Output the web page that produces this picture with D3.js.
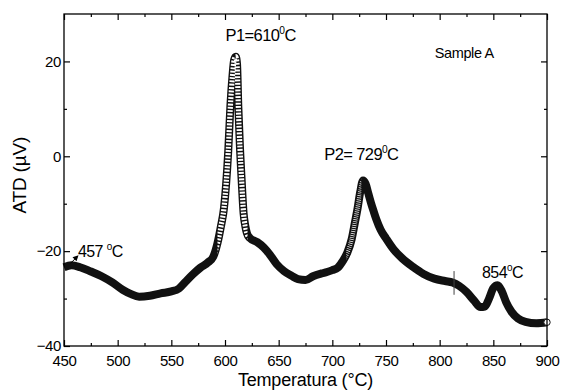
<!DOCTYPE html>
<html>
<head>
<meta charset="utf-8">
<script src="https://cdn.jsdelivr.net/npm/d3@7"></script>
<style>
	body { margin: 0; background: #fff; }
	text { font-family: Arial, "Liberation Sans", sans-serif; fill: #000; }
</style>
</head>
<body>
<svg id="chart" width="562" height="391"></svg>
<script>
// DTA curve, values (temperature in C, signal in uV)
const temps = [450, 457, 465, 475, 485, 495, 505, 512, 520, 530, 540, 550, 557, 563, 570, 577, 584, 589,
	593, 596, 599, 601, 603, 605, 607, 608.5, 610, 611.2, 612.4, 614, 615.5, 617.3, 619, 620.4, 623,
	630, 636, 642, 648, 655, 662, 668, 675, 682, 690, 695, 700, 705, 710, 714, 718, 721, 723.5, 726,
	728.6, 731, 733.5, 736, 738.5, 741, 745, 750, 757, 765, 775, 785, 795, 805, 812, 818, 825, 832,
	838, 842, 846, 850, 854, 858, 862, 867, 873, 880, 890, 900];
const atd = [-23.4, -23.0, -23.4, -24.3, -25.3, -26.6, -28.2, -29.0, -29.6, -29.4, -28.9, -28.5, -27.9, -26.5, -24.9, -23.5, -22.4, -21.2,
	-18.3, -15.0, -11.0, -6.0, 1.0, 10.5, 17.0, 20.3, 21.0, 19.5, 10.5, 1.5, -5.0, -12.0, -14.8, -16.2, -17.2,
	-18.1, -19.2, -20.8, -22.7, -24.2, -25.2, -25.9, -26.1, -25.3, -24.7, -24.4, -24.0, -23.5, -22.0, -20.3, -17.5, -14.0, -11.0, -7.5,
	-5.1, -5.8, -7.8, -9.8, -11.6, -13.3, -15.5, -17.3, -19.6, -21.5, -23.3, -24.8, -25.8, -26.3, -26.6, -27.3, -28.6, -30.4,
	-31.8, -31.7, -30.0, -27.8, -27.2, -28.5, -30.8, -32.8, -34.2, -34.9, -35.2, -35.0];

const xMajor = [450, 500, 550, 600, 650, 700, 750, 800, 850, 900];
const xMinor = [475, 525, 575, 625, 675, 725, 775, 825, 875];
const yMajor = [-40, -20, 0, 20];
const yMinor = [-30, -10, 10];

const data = temps.map((t, i) => ({ T: t, V: atd[i] }));

var margin = { top: 14, right: 15, bottom: 45, left: 64 },
	width = 562,
	height = 391;

var svg = d3.select("#chart");

let x = d3.scaleLinear().domain([450, 900]).range([margin.left, width - margin.right]);
let y = d3.scaleLinear().domain([-40, 30]).range([height - margin.bottom, margin.top]);

let line = d3
	.line()
	.x((d) => x(d.T))
	.y((d) => y(d.V))
	.curve(d3.curveMonotoneX);

// clip for the peak flanks where the open circles show as a chain
var defs = svg.append("defs");
defs.append("clipPath").attr("id", "p1")
	.append("rect")
	.attr("x", x(593)).attr("width", x(621) - x(593))
	.attr("y", 0).attr("height", height);
defs.append("clipPath").attr("id", "p2")
	.append("rect")
	.attr("x", x(713)).attr("width", x(727) - x(713))
	.attr("y", 0).attr("height", height);

// thick band made by the overlapping markers
svg.append("path")
	.attr("d", line(data))
	.attr("fill", "none")
	.attr("stroke", "#111")
	.attr("stroke-width", 8);

svg.append("path")
	.attr("d", line(data))
	.attr("clip-path", "url(#p1)")
	.attr("fill", "none")
	.attr("stroke", "#fff")
	.attr("stroke-width", 5.2)
	.attr("stroke-dasharray", "1.9 1.4");

svg.append("path")
	.attr("d", line(data))
	.attr("clip-path", "url(#p2)")
	.attr("fill", "none")
	.attr("stroke", "#fff")
	.attr("stroke-width", 4.4)
	.attr("stroke-dasharray", "0.7 1.3");

// last marker, open circle
var last = data[data.length - 1];
svg.append("circle")
	.attr("cx", x(last.T))
	.attr("cy", y(last.V))
	.attr("r", 3.2)
	.attr("fill", "#fff")
	.attr("stroke", "#111")
	.attr("stroke-width", 1);

// axes, ticks pointing inward
let bottomAxis = (g) =>
	g.attr("transform", `translate(0,${height - margin.bottom})`)
		.call(d3.axisBottom(x).tickValues(xMajor).tickSizeInner(-6).tickSizeOuter(0).tickPadding(9).tickFormat(d3.format("d")))
		.call((g) => g.select(".domain").remove());
let bottomMinor = (g) =>
	g.attr("transform", `translate(0,${height - margin.bottom})`)
		.call(d3.axisBottom(x).tickValues(xMinor).tickSizeInner(-3).tickSizeOuter(0).tickFormat(""))
		.call((g) => g.select(".domain").remove());
let topAxis = (g) =>
	g.attr("transform", `translate(0,${margin.top})`)
		.call(d3.axisTop(x).tickValues(xMajor).tickSizeInner(-6).tickSizeOuter(0).tickFormat(""))
		.call((g) => g.select(".domain").remove());
let topMinor = (g) =>
	g.attr("transform", `translate(0,${margin.top})`)
		.call(d3.axisTop(x).tickValues(xMinor).tickSizeInner(-3).tickSizeOuter(0).tickFormat(""))
		.call((g) => g.select(".domain").remove());
let leftAxis = (g) =>
	g.attr("transform", `translate(${margin.left},0)`)
		.call(d3.axisLeft(y).tickValues(yMajor).tickSizeInner(-6).tickSizeOuter(0).tickPadding(3).tickFormat(d3.format("d")))
		.call((g) => g.select(".domain").remove());
let leftMinor = (g) =>
	g.attr("transform", `translate(${margin.left},0)`)
		.call(d3.axisLeft(y).tickValues(yMinor).tickSizeInner(-3).tickSizeOuter(0).tickFormat(""))
		.call((g) => g.select(".domain").remove());
let rightAxis = (g) =>
	g.attr("transform", `translate(${width - margin.right},0)`)
		.call(d3.axisRight(y).tickValues(yMajor).tickSizeInner(-6).tickSizeOuter(0).tickFormat(""))
		.call((g) => g.select(".domain").remove());
let rightMinor = (g) =>
	g.attr("transform", `translate(${width - margin.right},0)`)
		.call(d3.axisRight(y).tickValues(yMinor).tickSizeInner(-3).tickSizeOuter(0).tickFormat(""))
		.call((g) => g.select(".domain").remove());

[bottomAxis, bottomMinor, topAxis, topMinor, leftAxis, leftMinor, rightAxis, rightMinor].forEach((a) => {
	svg.append("g").call(a);
});

svg.selectAll(".tick line").attr("stroke", "#000").attr("stroke-width", 1.2);
svg.selectAll(".tick text")
	.attr("font-family", "Arial, 'Liberation Sans', sans-serif")
	.attr("font-size", 15)
	.attr("letter-spacing", "-0.4")
	.attr("fill", "#000");

// frame
svg.append("rect")
	.attr("x", x(450))
	.attr("y", y(30))
	.attr("width", x(900) - x(450))
	.attr("height", y(-40) - y(30))
	.attr("fill", "none")
	.attr("stroke", "#000")
	.attr("stroke-width", 1.3);

// axis titles
svg.append("text")
	.attr("text-anchor", "middle")
	.attr("x", (x(450) + x(900)) / 2)
	.attr("y", 386)
	.attr("font-size", 18)
	.attr("letter-spacing", "-0.2")
	.text("Temperatura  (°C)");

svg.append("text")
	.attr("text-anchor", "middle")
	.attr("transform", "translate(26," + y(-4) + ") rotate(-90)")
	.attr("font-size", 19)
	.attr("letter-spacing", "-0.2")
	.text("ATD  (µV)");

// annotations with superscript degree
var label = (px, py, size, main, tail) => {
	var t = svg.append("text")
		.attr("x", px)
		.attr("y", py)
		.attr("font-size", size)
		.attr("letter-spacing", "-0.6");
	t.append("tspan").text(main);
	t.append("tspan").attr("dy", -7).attr("font-size", size * 0.62).text("0");
	t.append("tspan").attr("dy", 7).text(tail);
	return t;
};

label(x(600.5), 41, 16.5, "P1=610", "C");
label(x(692.5), 160, 16.5, "P2= 729", "C");
label(x(463), 257, 16, "457 ", "C");
label(x(839.5), 278, 16, "854", "C");

svg.append("text")
	.attr("x", x(795.5))
	.attr("y", 58)
	.attr("font-size", 14.5)
	.attr("letter-spacing", "-0.4")
	.text("Sample A");

// small arrow at 457 C
var ax = x(457), ay = y(-23.0);
svg.append("line")
	.attr("x1", ax - 1).attr("y1", ay - 2)
	.attr("x2", ax + 5).attr("y2", ay - 8)
	.attr("stroke", "#000").attr("stroke-width", 1);
svg.append("path")
	.attr("d", `M${ax + 7},${ay - 10} L${ax + 1},${ay - 8} L${ax + 5},${ay - 4} Z`)
	.attr("fill", "#000");

// vertical marker on the curve near 813 C
svg.append("line")
	.attr("x1", x(813.4)).attr("x2", x(813.4))
	.attr("y1", y(-24.2)).attr("y2", y(-29.2))
	.attr("stroke", "#444").attr("stroke-width", 1);
</script>
</body>
</html>
